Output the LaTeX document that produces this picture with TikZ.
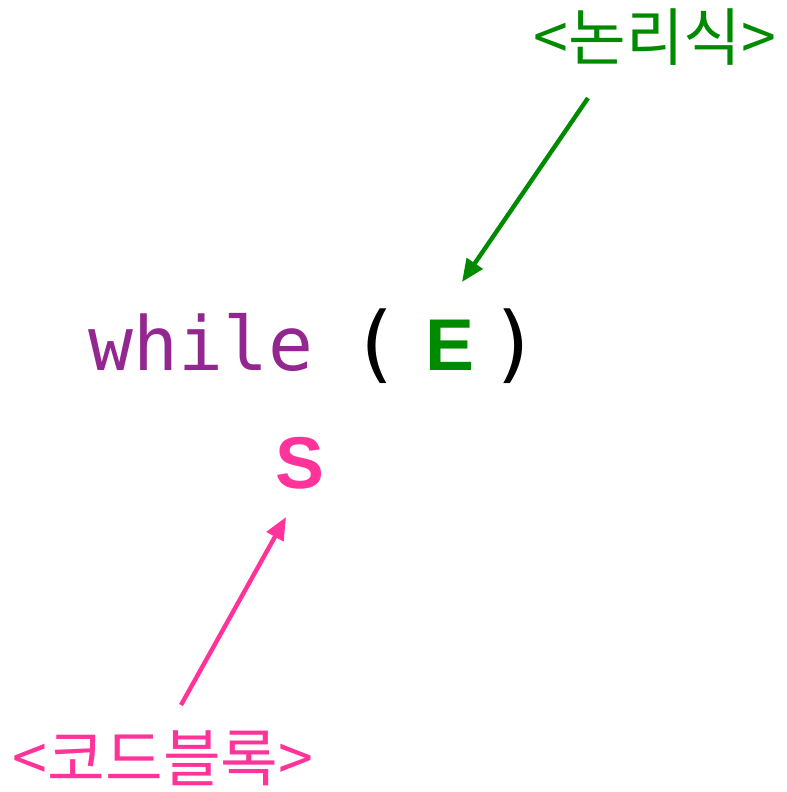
\documentclass[tikz,border=0pt]{standalone}
\usepackage{fontspec}
\usetikzlibrary{arrows.meta}
\newfontfamily\monofnt{DejaVu Sans Mono}
\newfontfamily\boldsans{Liberation Sans}
\newfontfamily\kor{Noto Sans CJK KR}
\definecolor{kwpurple}{RGB}{146,39,143}
\definecolor{exgreen}{RGB}{0,138,0}
\definecolor{blkpink}{RGB}{255,51,153}
\begin{document}
\begin{tikzpicture}[x=0.75pt,y=-0.75pt,
  code/.style={inner sep=0pt,font=\monofnt\fontsize{56}{60}\selectfont},
  paren/.style={inner sep=0pt,font=\monofnt\fontsize{63}{66}\selectfont},
  big/.style={inner sep=0pt,font=\boldsans\bfseries\fontsize{55}{60}\selectfont},
  lbl/.style={inner sep=0pt,font=\kor\fontsize{47}{52}\selectfont},
  arr/.style={line width=3.3pt,-{Triangle[length=17pt,width=14pt]}}]
\useasboundingbox (0,0) rectangle (786,792);
\node[code,anchor=base west,text=kwpurple] (kw) at (88,370) {while};
\node[paren,anchor=base] (lp) at (376,372) {(};
\node[big,anchor=base,text=exgreen] (E) at (450,370) {E};
\node[paren,anchor=base] (rp) at (515,372) {)};
\node[big,anchor=base,text=blkpink] (S) at (300,488) {S};
\node[lbl,anchor=base,text=exgreen] (logic) at (655,61) {<논리식>};
\node[lbl,anchor=base,text=blkpink] (block) at (163,781) {<코드블록>};
\coordinate (ga) at (588,98);
\coordinate (gb) at (462,282);
\coordinate (pa) at (181,705);
\coordinate (pb) at (286,517);
\draw[arr,exgreen] (ga) -- (gb);
\draw[arr,blkpink] (pa) -- (pb);
\end{tikzpicture}
\end{document}
